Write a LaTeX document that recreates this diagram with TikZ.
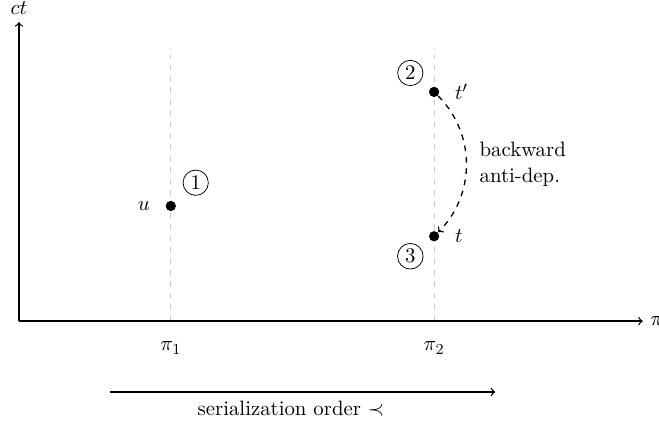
\documentclass[tikz,border=0pt,11pt]{standalone}
\usepackage{amsmath}
\usetikzlibrary{positioning,calc}

\begin{document}
\begin{tikzpicture}[
  dot/.style={circle,fill,inner sep=0pt,minimum size=5.4pt},
  stamp/.style={circle,draw,thin,inner sep=1.5pt},
  guide/.style={gray!40,dashed,thin},
  line width=0.7pt,
  >=to
  ]
  \useasboundingbox (-0.35,-1.96) rectangle (11.84,5.94);

  % axes
  \coordinate (O) at (0,0);
  \coordinate (xend) at (11.54,0);
  \coordinate (yend) at (0,5.53);
  \coordinate (P1) at (2.81,0);
  \coordinate (P2) at (7.68,0);

  \draw[guide] (P1) -- ($(P1)+(0,4.92)$);
  \draw[guide] (P2) -- ($(P2)+(0,4.92)$);
  \draw[->] (O) -- (xend);
  \draw[->] (O) -- (yend);
  \node [right=0pt of xend] (xlab) {$\pi$};
  \node [above=0pt of yend] (ylab) {$ct$};
  \node [below=7pt of P1] (p1lab) {$\pi_1$};
  \node [below=7pt of P2] (p2lab) {$\pi_2$};

  % events
  \node [dot] (u) at (2.81,2.13) {};
  \node [dot] (tp) at (7.68,4.24) {};
  \node [dot] (t) at (7.68,1.57) {};
  \node [left=4pt of u] (ulab) {$u$};
  \node [right=4pt of tp] (tplab) {$t'$};
  \node [right=4pt of t] (tlab) {$t$};

  \node [stamp] (c1) at ($(u)+(0.46,0.43)$) {1};
  \node [stamp] (c2) at ($(tp)+(-0.44,0.35)$) {2};
  \node [stamp] (c3) at ($(t)+(-0.44,-0.37)$) {3};

  \draw[->,dashed] (tp) to[bend left=45]
    node[right=3pt,align=left] (note) {backward\\anti-dep.} (t);

  % order
  \coordinate (s0) at (1.68,-1.31);
  \coordinate (s1) at (8.81,-1.31);
  \draw[->] (s0) -- node[pos=0.47,below=1pt] (ser) {serialization order $\prec$} (s1);
\end{tikzpicture}
\end{document}
